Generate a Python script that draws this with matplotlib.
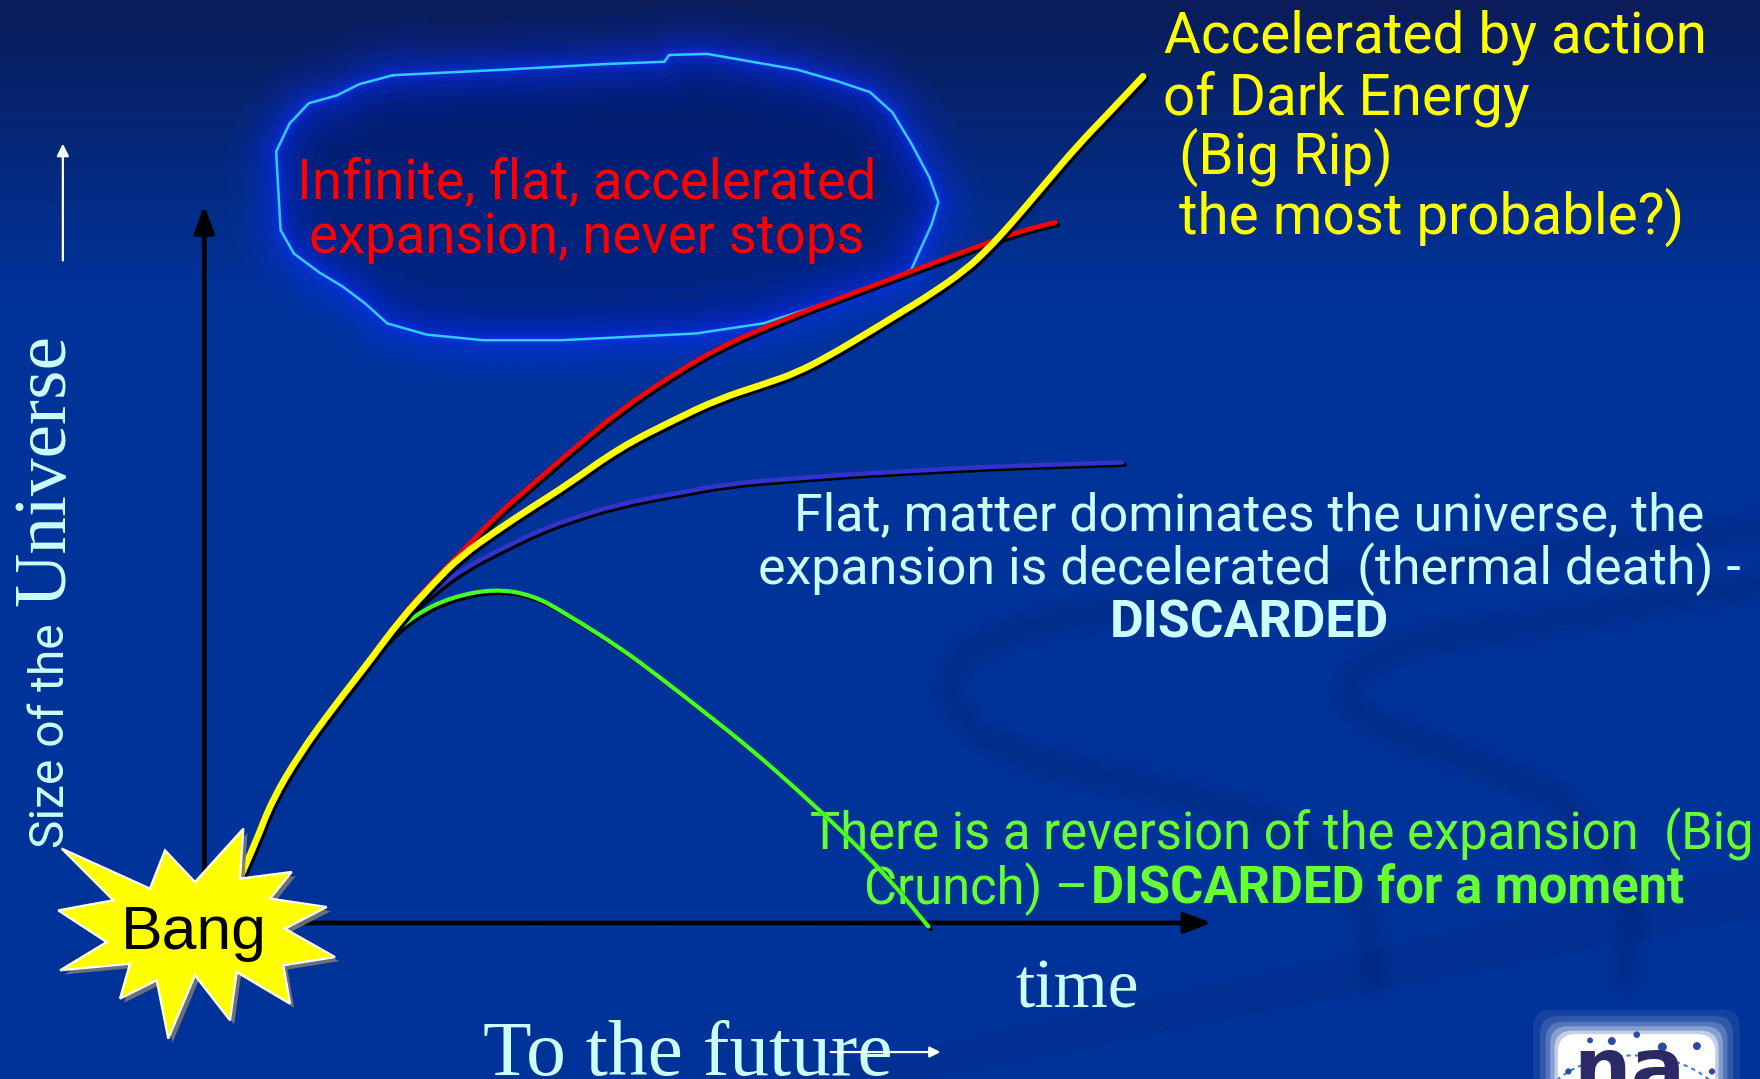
import matplotlib
matplotlib.use("Agg")
import matplotlib.pyplot as plt
import matplotlib.patheffects as pe
from matplotlib.patches import Polygon, FancyBboxPatch, PathPatch
from matplotlib.path import Path
import numpy as np

# ---------------- data (time, size of the universe) ----------------
time_yellow = [0.33, 0.54, 0.71, 1.00, 1.35, 1.71, 2.05, 2.40, 2.68, 3.09, 3.45, 3.80, 4.35, 4.92,
               5.39, 5.86, 6.21, 6.56, 6.92, 7.27, 7.62, 7.98, 8.21, 8.45, 8.80, 9.15, 9.51, 9.84]
size_yellow = [0.49, 1.11, 1.68, 2.32, 2.95, 3.55, 4.15, 4.65, 5.02, 5.40, 5.71, 6.00, 6.51, 6.89,
               7.18, 7.38, 7.54, 7.78, 8.06, 8.34, 8.62, 8.95, 9.23, 9.57, 10.11, 10.65, 11.14, 11.60]

time_red = [0.33, 0.54, 0.71, 1.00, 1.35, 1.71, 2.05, 2.40, 2.68, 3.09, 3.45, 3.80, 4.35, 4.92,
            5.39, 5.86, 6.33, 6.80, 7.27, 7.74, 8.21, 8.56, 8.92]
size_red = [0.49, 1.11, 1.68, 2.32, 2.95, 3.55, 4.18, 4.69, 5.06, 5.62, 6.02, 6.42, 7.02, 7.52,
            7.88, 8.15, 8.40, 8.63, 8.86, 9.09, 9.32, 9.48, 9.60]

time_blue = [0.33, 0.54, 0.71, 1.00, 1.35, 1.71, 2.01, 2.40, 2.75, 3.11, 3.45, 3.80, 4.35, 4.92,
             5.51, 6.09, 6.80, 7.51, 8.21, 8.92, 9.62]
size_blue = [0.49, 1.11, 1.68, 2.32, 2.95, 3.55, 4.09, 4.55, 4.88, 5.12, 5.34, 5.52, 5.74, 5.88,
             6.02, 6.08, 6.15, 6.20, 6.25, 6.28, 6.31]

time_green = [0.33, 0.54, 0.71, 1.00, 1.35, 1.71, 1.91, 2.22, 2.58, 3.04, 3.45, 3.80, 4.35, 4.80,
              5.27, 5.74, 6.21, 6.68, 7.15, 7.59]
size_green = [0.49, 1.11, 1.68, 2.32, 2.95, 3.55, 3.89, 4.23, 4.46, 4.58, 4.49, 4.23, 3.78, 3.34,
              2.86, 2.37, 1.83, 1.26, 0.65, -0.05]

dark_energy_lines = ["Accelerated by action", "of Dark Energy", "(Big Rip)", "the most probable?)"]
flat_accel_lines = ["Infinite, flat, accelerated", "expansion, never stops"]
flat_matter_lines = ["Flat, matter dominates the universe, the",
                     "expansion is decelerated  (thermal death) -", "DISCARDED"]
crunch_lines = ["There is a reversion of the expansion  (Big", "Crunch) \u2013", "DISCARDED for a moment"]
y_label_parts = ["Size of the", "Universe"]
x_label = "time"
future_label = "To the future"
bang_label = "Bang"
logo_label = "na"

# ---------------- styling ----------------
COMIC = ["Roboto", "DejaVu Sans"]
SERIF = ["Liberation Serif", "DejaVu Serif"]
CYAN = "#ccffff"
W_PX, H_PX = 1760, 1079
SW, SH = 1568, 961
S = W_PX / SW

fig = plt.figure(figsize=(17.6, 10.79), dpi=100)
renderer = fig.canvas.get_renderer()

bg = fig.add_axes([0, 0, 1, 1], zorder=0)
bg.set_xlim(0, SW)
bg.set_ylim(SH, 0)
bg.axis("off")

# background gradient
ny = 400
yy = np.linspace(0, SH, ny)
top = np.array([0.04, 0.11, 0.35])
mid = np.array([0.0, 0.2, 0.6])
f = np.clip(yy / 260.0, 0, 1)[:, None]
col = top * (1 - f) + mid * f
img = np.repeat(col[:, None, :], 2, axis=1)
bg.imshow(img, extent=[0, SW, SH, 0], aspect="auto", zorder=0, interpolation="bilinear")

# faint background swirls
sw_paths = [
    ([1568, 1400, 1250, 1100, 994, 909, 859, 844, 869, 934, 1034, 1134, 1194, 1219, 1224],
     [470, 490, 510, 528, 543, 559, 581, 616, 654, 680, 702, 731, 772, 820, 870]),
    ([1568, 1480, 1384, 1259, 1209, 1199, 1234, 1309, 1384, 1434, 1454, 1449],
     [520, 535, 552, 571, 597, 623, 648, 676, 708, 756, 820, 870]),
]
for xs, ys in sw_paths:
    for w, a in [(30, 0.06), (20, 0.07), (10, 0.07)]:
        bg.plot(xs, ys, color="#001a5c", lw=w, alpha=a, solid_capstyle="round",
                solid_joinstyle="round", zorder=0.5)
bg.add_patch(Polygon([(700, 961), (1568, 770), (1568, 815), (820, 961)], closed=True,
                     fc="#001f66", ec="none", alpha=0.15, zorder=0.5))

# glowing cloud
cloud = np.array([(350, 67), (450, 62), (540, 57), (592, 55), (596, 49), (630, 48), (670, 55), (710, 62),
                  (745, 72), (775, 82), (795, 100), (812, 128), (828, 158), (836, 180), (830, 200),
                  (820, 222), (812, 240), (790, 252), (760, 262), (720, 275), (680, 288), (620, 297),
                  (560, 300), (500, 303), (430, 303), (380, 298), (345, 288), (325, 270), (305, 255),
                  (285, 243), (262, 226), (250, 205), (248, 170), (246, 135), (258, 110), (275, 92),
                  (300, 85), (320, 75)])
cl = np.vstack([cloud, cloud[:1]])
bg.fill(cl[:, 0], cl[:, 1], color="#001a70", alpha=0.55, zorder=1, lw=0)
for w, a in [(70, 0.06), (50, 0.09), (34, 0.12), (22, 0.15), (12, 0.22), (6, 0.3)]:
    bg.plot(cl[:, 0], cl[:, 1], color="#0a30ff", lw=w, alpha=a, solid_joinstyle="round", zorder=2)
bg.plot(cl[:, 0], cl[:, 1], color="#33ccff", lw=1.8, zorder=3, solid_joinstyle="round")

# ---------------- chart axes ----------------
ax = fig.add_axes([0, 0, 1, 1], zorder=1)
ax.patch.set_visible(False)
ax.axis("off")
ax.set_autoscale_on(False)
ax.set_xlim(-182 / 85, (SW - 182) / 85)
ax.set_ylim((822 - SH) / 65, 822 / 65)

ax.annotate("", xy=(0, 9.83), xytext=(0, 0),
            arrowprops=dict(arrowstyle="-|>,head_length=0.8,head_width=0.3", color="black", lw=3.4,
                            shrinkA=0, shrinkB=0, mutation_scale=20), zorder=2)
ax.annotate("", xy=(10.56, 0), xytext=(0, 0),
            arrowprops=dict(arrowstyle="-|>,head_length=0.8,head_width=0.3", color="black", lw=3.4,
                            shrinkA=0, shrinkB=0, mutation_scale=20), zorder=2)


def smooth_path(xs, ys):
    p = np.column_stack([xs, ys]).astype(float)
    verts = [p[0], (p[0] + p[1]) / 2]
    codes = [Path.MOVETO, Path.LINETO]
    for i in range(1, len(p) - 1):
        verts += [p[i], (p[i] + p[i + 1]) / 2]
        codes += [Path.CURVE3, Path.CURVE3]
    verts.append(p[-1])
    codes.append(Path.LINETO)
    return Path(np.array(verts), codes)


shadow = [pe.SimpleLineShadow(offset=(1.7, -1.7), shadow_color="black", alpha=0.95), pe.Normal()]
for xs, ys, c, lw, z in [(time_blue, size_blue, "#3333cc", 3.2, 3.0),
                         (time_green, size_green, "#44ff22", 3.0, 3.1),
                         (time_red, size_red, "#ff0000", 3.4, 3.2),
                         (time_yellow, size_yellow, "#ffff00", 4.8, 3.3)]:
    ax.add_patch(PathPatch(smooth_path(xs, ys), fc="none", ec=c, lw=lw, zorder=z,
                           capstyle="round", joinstyle="round", path_effects=shadow))


def place(axis, x, y, s, fit_w=None, size=30, tr=None, **kw):
    t = axis.text(x, y, s, fontsize=size, transform=tr if tr is not None else bg.transData, **kw)
    if fit_w:
        for _ in range(3):
            w = t.get_window_extent(renderer).width
            t.set_fontsize(t.get_fontsize() * fit_w * S / w)
    return t


def width_shown(t):
    return t.get_window_extent(renderer).width / S


# star "Bang"
star = [(55.0, 755.8), (133.6, 791.4), (147.0, 757.3), (173.7, 785.5), (216.8, 738.0), (213.8, 782.5),
        (259.9, 776.6), (240.6, 800.3), (291.1, 807.8), (253.9, 827.1), (298.5, 852.4), (252.4, 859.7),
        (258.4, 893.9), (210.9, 865.7), (204.9, 908.8), (173.7, 868.7), (149.9, 925.1), (139.6, 873.1),
        (106.9, 889.4), (115.8, 858.3), (53.5, 864.2), (95.1, 839.0), (51.9, 810.8), (100.9, 801.8)]
ax.add_patch(Polygon(star, closed=True, transform=bg.transData, fc="#ffff00", ec="white", lw=1.6,
                     zorder=5, path_effects=[pe.SimplePatchShadow(offset=(3, -3), shadow_rgbFace="#777777",
                                                                  alpha=0.9), pe.Normal()]))
place(ax, 173, 845, bang_label, fit_w=130, family=["Liberation Sans", "DejaVu Sans"], color="black",
      ha="center", va="baseline", zorder=6)

# yellow annotation
t0 = place(ax, 1037, 47, dark_energy_lines[0], fit_w=483, family=COMIC, color="#ffff00",
           ha="left", va="baseline", zorder=4)
fs = t0.get_fontsize()
for (x, y), s in zip([(1036, 102), (1050, 155), (1050, 208)], dark_energy_lines[1:]):
    place(ax, x, y, s, size=fs, family=COMIC, color="#ffff00", ha="left", va="baseline", zorder=4)

# red annotation
t0 = place(ax, 523, 177, flat_accel_lines[0], fit_w=517, family=COMIC, color="#ff0000",
           ha="center", va="baseline", zorder=4)
place(ax, 523, 225, flat_accel_lines[1], size=t0.get_fontsize(), family=COMIC, color="#ff0000",
      ha="center", va="baseline", zorder=4)

# flat matter annotation
t0 = place(ax, 1113, 472, flat_matter_lines[0], fit_w=810, family=COMIC, color=CYAN,
           ha="center", va="baseline", zorder=4)
fs = t0.get_fontsize()
place(ax, 1113, 520, flat_matter_lines[1], size=fs, family=COMIC, color=CYAN, ha="center",
      va="baseline", zorder=4)
place(ax, 1113, 568, flat_matter_lines[2], size=fs, family=COMIC, color=CYAN, ha="center",
      va="baseline", weight="bold", zorder=4)

# crunch annotation
GREEN_T = "#66ff33"
t0 = place(ax, 722, 756, crunch_lines[0], fit_w=840, family=COMIC, color=GREEN_T,
           ha="left", va="baseline", zorder=2.9)
fs = t0.get_fontsize()
t1 = place(ax, 770, 805, crunch_lines[1], size=fs, family=COMIC, color=GREEN_T, ha="left",
           va="baseline", zorder=2.9)
place(ax, 770 + width_shown(t1) + 2, 805, crunch_lines[2], size=fs, family=COMIC, color=GREEN_T,
      ha="left", va="baseline", weight="bold", zorder=2.9)

# y label (rotated)
ty = place(bg, 57, 755, y_label_parts[0], fit_w=200, family=COMIC, color=CYAN, ha="left",
           va="baseline", rotation_mode="anchor", zorder=4)
ty.set_rotation(90)
tu = place(bg, 57, 540, y_label_parts[1], fit_w=242, family=SERIF, color=CYAN, ha="left",
           va="baseline", rotation_mode="anchor", zorder=4)
tu.set_rotation(90)
bg.annotate("", xy=(56, 128), xytext=(56, 232),
            arrowprops=dict(arrowstyle="-|>", color="white", lw=1.6, mutation_scale=18,
                            shrinkA=0, shrinkB=0), zorder=4)

# x labels
place(bg, 905, 897, x_label, fit_w=110, family=SERIF, color=CYAN, ha="left", va="baseline", zorder=4)
place(bg, 430, 957, future_label, fit_w=365, family=SERIF, color=CYAN, ha="left", va="baseline", zorder=4)
bg.annotate("", xy=(838, 937), xytext=(740, 937),
            arrowprops=dict(arrowstyle="-|>", color="white", lw=1.6, mutation_scale=16,
                            shrinkA=0, shrinkB=0), zorder=5)

# logo
for pad, a in [(22, 0.08), (16, 0.12), (11, 0.18), (7, 0.3), (3, 0.5), (0, 1.0)]:
    bg.add_patch(FancyBboxPatch((1388 - pad, 921 - pad), 140 + 2 * pad, 80 + 2 * pad,
                                boxstyle="round,pad=0,rounding_size=16", fc="white", ec="none",
                                alpha=a, zorder=4))
th = np.linspace(np.pi * 1.05, np.pi * 1.95, 40)
bg.plot(1455 + 85 * np.cos(th), 995 + 55 * np.sin(th), color="#3a7fd0", lw=1.5, ls=(0, (2, 2)), zorder=4.5)
bg.scatter([1416.6, 1436, 1458.2, 1481, 1511.8, 1525.2, 1397.3], [926.6, 927.2, 921.5, 932.5, 931.7, 954.3, 954.3],
           s=[10, 22, 14, 30, 22, 12, 12], color="#2a4aa8", zorder=4.6)
place(bg, 1452, 975, logo_label, fit_w=100, family=["DejaVu Sans"], weight="bold", color="#2b2966",
      ha="center", va="baseline", zorder=4.7)

fig.savefig("out.png", dpi=100)
